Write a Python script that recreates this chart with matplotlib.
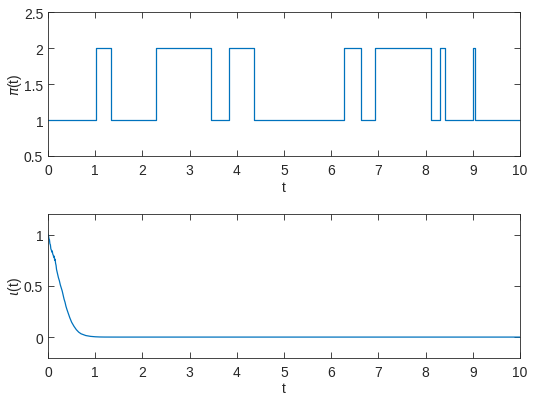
import numpy as np
import matplotlib
matplotlib.use("Agg")
import matplotlib.pyplot as plt

plt.rcParams['font.family'] = ['Liberation Sans', 'DejaVu Sans']
plt.rcParams['mathtext.fontset'] = 'dejavusans'

# regime switching path pi(t)
t_switch = [0, 1.01, 1.33, 2.29, 3.45, 3.84, 4.37, 6.28, 6.64, 6.93,
            8.11, 8.31, 8.40, 9.01, 9.04, 10]
pi_state = [1, 2, 1, 2, 1, 2, 1, 2, 1, 2, 1, 2, 1, 2, 1, 1]

# iota(t)
t_iota = [0, 0.01, 0.02, 0.03, 0.04, 0.05, 0.06, 0.07, 0.08, 0.09, 0.10,
          0.11, 0.12, 0.13, 0.14, 0.15, 0.16, 0.17, 0.18, 0.19, 0.20,
          0.22, 0.24, 0.26, 0.28, 0.30, 0.32, 0.34, 0.36, 0.38, 0.40,
          0.43, 0.46, 0.50, 0.55, 0.60, 0.65, 0.70, 0.80, 0.90, 1.00,
          1.10, 1.20, 1.50, 2.0, 5.0, 10.0]
iota = [1.00, 0.99, 0.96, 0.95, 0.91, 0.90, 0.86, 0.85, 0.83, 0.84, 0.81,
        0.80, 0.78, 0.79, 0.75, 0.76, 0.72, 0.70, 0.66, 0.64, 0.62,
        0.58, 0.55, 0.51, 0.48, 0.45, 0.41, 0.37, 0.34, 0.30, 0.27,
        0.23, 0.19, 0.145, 0.105, 0.072, 0.048, 0.032, 0.015, 0.007, 0.003,
        0.001, 0.0003, 0.0, 0.0, 0.0, 0.0]

blue = (0, 0.447, 0.741)
axcol = (0.15, 0.15, 0.15)

fig = plt.figure(figsize=(5.47, 4.02), dpi=100)
ax1 = fig.add_axes([0.0878, 0.6095, 0.863, 0.358])
ax2 = fig.add_axes([0.0878, 0.108, 0.863, 0.357])

ax1.plot(t_switch, pi_state, drawstyle='steps-post', color=blue, lw=0.9)
ax1.set_xlim(0, 10)
ax1.set_ylim(0.5, 2.5)
ax1.set_yticks([0.5, 1, 1.5, 2, 2.5])
ax1.set_yticklabels(['0.5', '1', '1.5', '2', '2.5'])
ax1.set_ylabel(r'$\pi$(t)', labelpad=0)

ax2.plot(t_iota, iota, color=blue, lw=0.9)
ax2.set_xlim(0, 10)
ax2.set_ylim(-0.2, 1.2)
ax2.set_yticks([0, 0.5, 1])
ax2.set_yticklabels(['0', '0.5', '1'])
ax2.set_ylabel(r'$\iota$(t)', labelpad=0)

for ax in (ax1, ax2):
    ax.set_xticks(range(0, 11))
    ax.set_xlabel('t', color=axcol, fontsize=10, labelpad=2)
    ax.yaxis.label.set_color(axcol)
    ax.yaxis.label.set_size(10)
    ax.tick_params(direction='in', top=True, right=True, length=4,
                   width=0.6, colors=axcol, labelsize=10)
    ax.tick_params(axis='x', pad=5)
    for s in ax.spines.values():
        s.set_color(axcol)
        s.set_linewidth(0.6)

fig.savefig('out.png', dpi=100)
